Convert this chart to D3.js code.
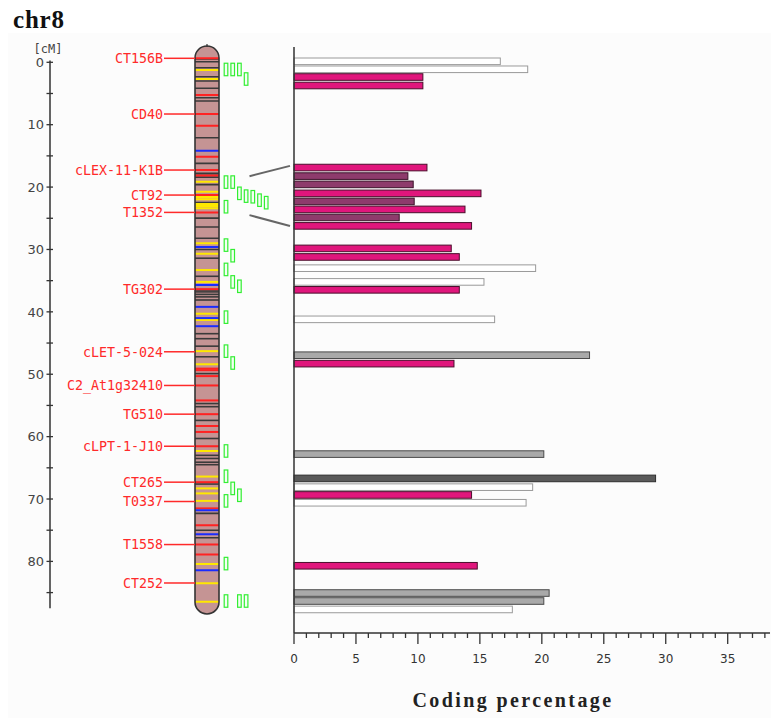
<!DOCTYPE html>
<html><head><meta charset="utf-8">
<script src="https://cdn.jsdelivr.net/npm/d3@7"></script>
<style>body{margin:0;background:#fff}</style>
</head><body><svg id="chart" width="771" height="718"></svg>
<script>
// ---- map markers (cM) ----
const markerNames = ["CT156B","CD40","cLEX-11-K1B","CT92","T1352","TG302","cLET-5-024",
  "C2_At1g32410","TG510","cLPT-1-J10","CT265","T0337","T1558","CT252"];
const markerPos = [-0.64, 8.29, 17.27, 21.28, 24.06, 36.36, 46.4, 51.8, 56.4, 61.54, 67.3, 70.4, 77.3, 83.46];

// chromosome extent (cM)
const chromSpan = [-0.69, 86.5];

// coloured bands on the chromosome (cM)
const bandsDark = [-0.53, -0.1, 0.87, 2.31, 3.0, 4.17, 5.68, 6.21, 12.09, 16.2, 17.8, 18.1, 18.4, 19.6,
  22.5, 24.97, 26.4, 28.2, 30.0, 31.4, 34.3, 36.5, 36.8, 37.2, 37.6, 38.1, 43.5, 44.3, 45.5, 47.2,
  49.9, 54.7, 55.2, 57.4, 60.3, 63.0, 63.5, 64.1, 64.5, 67.6, 72.3, 75.0, 76.2];
const bandsYellow = [1.23, 2.68, 19.15, 20.75, 21.6, 21.97, 22.7, 23.05, 23.4, 29.0, 30.7, 33.3, 35.2,
  40.3, 41.3, 46.3, 48.4, 62.3, 66.4, 68.3, 69.1, 70.3, 80.4, 83.5, 86.45];
const bandsRed = [-0.64, 5.24, 8.29, 10.17, 15.14, 17.27, 18.15, 21.28, 24.06, 36.36, 49.1, 49.35, 50.3,
  51.8, 54.2, 56.4, 58.3, 59.25, 61.54, 67.3, 71.5, 74.2, 77.3, 78.9];
const bandsBlue = [14.18, 29.6, 35.7, 39.2, 41.0, 42.3, 71.8, 75.65, 81.4];

// ---- genes: map position (cM), stacking column, coding percentage, class ----
const genePos = [1.15, 1.15, 1.15, 2.68, 19.2, 19.2, 21.0, 21.45, 21.55, 22.1, 22.5, 23.15,
  29.3, 31.0, 33.2, 35.2, 35.9, 40.85, 46.3, 48.2, 62.3, 66.35, 68.3, 69.4, 70.3, 80.35,
  86.35, 86.35, 86.35];
const geneCol = [0, 1, 2, 3, 0, 1, 2, 3, 4, 5, 6, 0,
  0, 1, 0, 1, 2, 0, 0, 1, 0, 0, 1, 2, 0, 0,
  0, 2, 3];
const geneCoding = [16.65, 18.86, 10.4, 10.4, 10.73, 9.19, 9.62, 15.09, 9.7, 13.8, 8.49, 14.33,
  12.69, 13.34, 19.5, 15.33, 13.34, 16.19, 23.85, 12.91, 20.16, 29.18, 19.26, 14.33, 18.73, 14.79,
  20.59, 20.16, 17.62];
const geneClass = ["none","none","high","high","high","mid","mid","high","mid","high","mid","high",
  "high","high","none","none","high","none","grey","high","grey","dark","none","high","none","high",
  "grey","grey","none"];
// row of each bar in the bar panel, on the cM scale
const barRow = [-0.16, 1.12, 2.36, 3.72, 16.87, 18.24, 19.57, 21.01, 22.3, 23.58, 24.87, 26.22,
  29.83, 31.2, 33.0, 35.2, 36.47, 41.2, 46.95, 48.3, 62.8, 66.7, 68.1, 69.35, 70.6, 80.7,
  85.07, 86.35, 87.7];

// expanded stretch: chromosome interval -> bar-panel interval (cM)
const zoomFrom = [18.25, 24.5];
const zoomTo = [16.6, 26.25];

// axis ticks
const cmTicks = d3.range(0, 86, 5);
const pctTicks = d3.range(0, 39, 1);

const classFill = {none: "#ffffff", high: "#e0167c", mid: "#8e3b6c", grey: "#a9a9a9", dark: "#5a5a5a"};
const classStroke = {none: "#9a9a9a", high: "#4a0f2c", mid: "#3b1229", grey: "#4a4a4a", dark: "#2e2e2e"};

const svg = d3.select("#chart");

// background panel
svg.append("rect").attr("x", 8).attr("y", 33).attr("width", 763).attr("height", 685).attr("fill", "#fcfcfc");

// title
svg.append("text").attr("x", 13).attr("y", 28)
  .attr("font-family", "'Liberation Serif', serif").attr("font-weight", "bold")
  .attr("font-size", 25).attr("letter-spacing", 0.8).attr("fill", "#111").text("chr8");

// scales
const y = d3.scaleLinear().domain([0, 80]).range([62.3, 561.4]);
const x = d3.scaleLinear().domain([0, 35]).range([294, 727.7]);

// ---- cM axis ----
const axisX = 50;
const gAxis = svg.append("g").attr("transform", `translate(${axisX},0)`);
gAxis.append("line").attr("x1", 0).attr("x2", 0).attr("y1", y(-0.3)).attr("y2", y(87.5))
  .attr("stroke", "#333").attr("stroke-width", 1.5);
gAxis.selectAll("line.tk").data(cmTicks).join("line").attr("class", "tk")
  .attr("x1", -3.5).attr("x2", 3).attr("y1", d => y(d)).attr("y2", d => y(d))
  .attr("stroke", "#333").attr("stroke-width", 1.3);
gAxis.selectAll("text.tl").data(cmTicks.filter(d => d % 10 === 0)).join("text").attr("class", "tl")
  .attr("x", -6).attr("y", d => y(d)).attr("dy", "0.36em").attr("text-anchor", "end")
  .attr("font-family", "'DejaVu Sans', sans-serif").attr("font-size", 13).attr("fill", "#444").text(d => d);
gAxis.append("text").attr("x", -2).attr("y", 53).attr("text-anchor", "middle")
  .attr("font-family", "'DejaVu Sans Mono', monospace").attr("font-size", 12).attr("fill", "#444").text("[cM]");

// ---- chromosome ----
const cx = 207, hw = 12;
const yTop = y(chromSpan[0]), yBot = y(chromSpan[1]);
const chromPath = `M${cx - hw},${yTop} A${hw},${hw} 0 0 1 ${cx + hw},${yTop} L${cx + hw},${yBot} A${hw},${hw} 0 0 1 ${cx - hw},${yBot} Z`;
svg.append("clipPath").attr("id", "chromClip").append("path").attr("d", chromPath);
svg.append("path").attr("d", chromPath).attr("fill", "#c59494");
const gBands = svg.append("g").attr("clip-path", "url(#chromClip)");
function drawBands(list, color, width) {
  gBands.selectAll(null).data(list).join("line")
    .attr("x1", cx - hw).attr("x2", cx + hw).attr("y1", d => y(d)).attr("y2", d => y(d))
    .attr("stroke", color).attr("stroke-width", width);
}
drawBands(bandsDark, "#3a3a3a", 1.6);
drawBands(bandsYellow, "#ffe800", 2);
drawBands(bandsRed, "#ff2222", 2);
drawBands(bandsBlue, "#1a2cff", 2);
svg.append("path").attr("d", chromPath).attr("fill", "none").attr("stroke", "#333").attr("stroke-width", 1.6);
svg.append("line").attr("x1", cx).attr("x2", cx).attr("y1", yTop - hw - 2).attr("y2", yTop - hw + 1)
  .attr("stroke", "#333").attr("stroke-width", 1.2);

// ---- marker labels ----
const gMk = svg.append("g");
gMk.selectAll("line").data(markerPos).join("line")
  .attr("x1", 164).attr("x2", cx - hw).attr("y1", d => y(d)).attr("y2", d => y(d))
  .attr("stroke", "#ff2a2a").attr("stroke-width", 1.5);
gMk.selectAll("text").data(markerNames).join("text")
  .attr("x", 163).attr("y", (d, i) => y(markerPos[i])).attr("dy", "0.36em").attr("text-anchor", "end")
  .attr("font-family", "'DejaVu Sans Mono', monospace").attr("font-size", 13.3)
  .attr("fill", "#ff2a2a").text(d => d);

// ---- gene boxes beside the chromosome ----
const colX = d3.scaleLinear().domain([0, 1]).range([226, 232.7]);
const boxH = y(2) - y(0);
svg.append("g").selectAll("rect").data(genePos).join("rect")
  .attr("x", (d, i) => colX(geneCol[i]) - 1.8).attr("width", 3.6)
  .attr("y", d => y(d) - boxH / 2).attr("height", boxH)
  .attr("fill", "#f4fff4").attr("stroke", "#33ee33").attr("stroke-width", 1.2);

// ---- expansion connectors ----
const gZ = svg.append("g");
[0, 1].forEach(k => {
  gZ.append("line").attr("x1", 249.5).attr("y1", y(zoomFrom[k]))
    .attr("x2", 290).attr("y2", y(zoomTo[k]))
    .attr("stroke", "#666").attr("stroke-width", 2);
});

// ---- bars ----
const barH = 6.6;
svg.append("g").selectAll("rect").data(geneCoding).join("rect")
  .attr("x", x(0)).attr("width", d => x(d) - x(0))
  .attr("y", (d, i) => y(barRow[i]) - barH / 2).attr("height", barH)
  .attr("fill", (d, i) => classFill[geneClass[i]])
  .attr("stroke", (d, i) => classStroke[geneClass[i]]).attr("stroke-width", 1);

// bar panel vertical axis
svg.append("line").attr("x1", x(0)).attr("x2", x(0)).attr("y1", 47).attr("y2", 633)
  .attr("stroke", "#333").attr("stroke-width", 1.5);

// ---- percentage axis ----
const gX = svg.append("g").attr("transform", "translate(0,633)");
gX.append("line").attr("x1", x(0)).attr("x2", 770).attr("y1", 0).attr("y2", 0)
  .attr("stroke", "#333").attr("stroke-width", 1.5);
gX.selectAll("line.tk").data(pctTicks).join("line").attr("class", "tk")
  .attr("x1", d => x(d)).attr("x2", d => x(d)).attr("y1", 0).attr("y2", d => d % 5 === 0 ? 11 : 5)
  .attr("stroke", "#333").attr("stroke-width", 1.3);
gX.selectAll("text").data(pctTicks.filter(d => d % 5 === 0)).join("text")
  .attr("x", d => x(d)).attr("y", 30).attr("text-anchor", "middle")
  .attr("font-family", "'DejaVu Sans', sans-serif").attr("font-size", 12).attr("fill", "#333").text(d => d);

svg.append("text").attr("x", 513).attr("y", 707).attr("text-anchor", "middle")
  .attr("font-family", "'Liberation Serif', serif").attr("font-weight", "bold")
  .attr("font-size", 20).attr("letter-spacing", 2.4).attr("fill", "#222").text("Coding percentage");
</script></body></html>
